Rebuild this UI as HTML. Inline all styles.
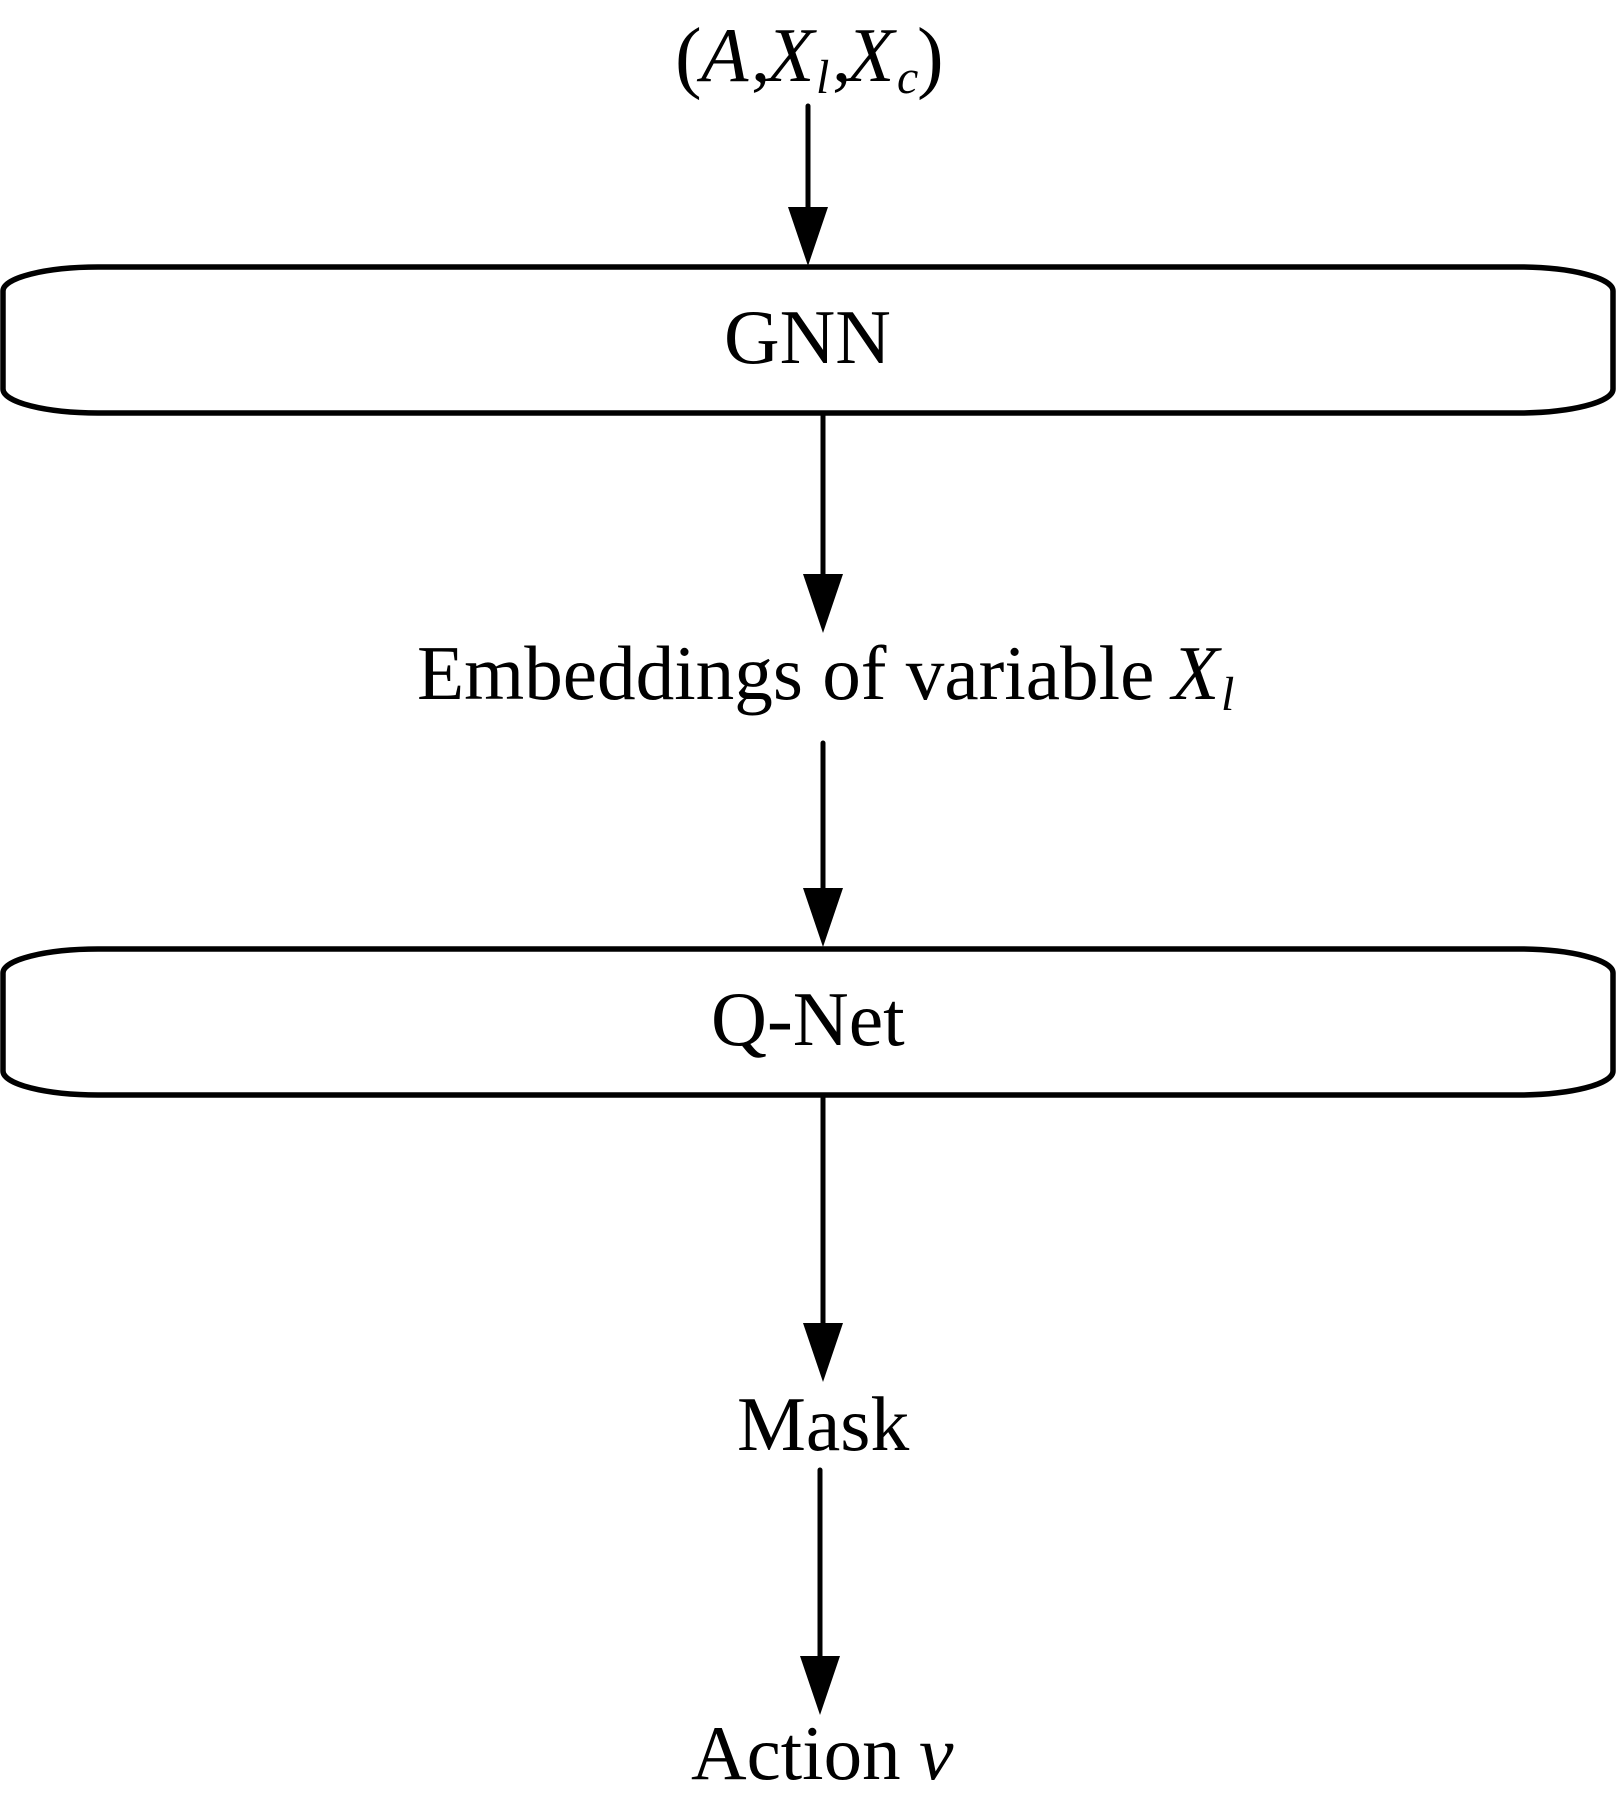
<!DOCTYPE html>
<html><head><meta charset="utf-8"><style>
html,body{margin:0;padding:0;background:#fff}
svg{display:block}
text{font-family:"Liberation Serif",serif;font-size:77.5px;fill:#000}
.i{font-style:italic}
.s{font-style:italic;font-size:48px}
.p{font-size:80px}
</style></head><body>
<svg width="1616" height="1802" viewBox="0 0 1616 1802" xmlns="http://www.w3.org/2000/svg">
<rect width="1616" height="1802" fill="#fff"/>
<g fill="none" stroke="#000" stroke-width="5.5">
<rect x="3" y="267" width="1610" height="146" rx="95" ry="24"/>
<rect x="3" y="949" width="1610" height="146" rx="95" ry="24"/>
</g>
<g stroke="#000" stroke-width="5" stroke-linecap="round">
<line x1="808" y1="106" x2="808" y2="210"/>
<line x1="823" y1="414" x2="823" y2="578"/>
<line x1="823" y1="743" x2="823" y2="890"/>
<line x1="823" y1="1096" x2="823" y2="1326"/>
<line x1="820" y1="1470" x2="820" y2="1658"/>
</g>
<g fill="#000">
<polygon points="788,207 828,207 808,266"/>
<polygon points="803,574 843,574 823,633"/>
<polygon points="803,888 843,888 823,947"/>
<polygon points="803,1323 843,1323 823,1382"/>
<polygon points="800,1656 840,1656 820,1715"/>
</g>
<text class="p" x="675" y="83">(</text>
<text class="i" x="701" y="81">A</text>
<text x="751" y="81">,</text>
<text class="i" x="767" y="81">X</text>
<text class="s" x="816" y="93">l</text>
<text x="832" y="81">,</text>
<text class="i" x="847" y="81">X</text>
<text class="s" x="897" y="93">c</text>
<text class="p" x="917" y="83">)</text>
<text x="724" y="363" style="font-size:77px">GNN</text>
<text x="417" y="699" style="font-size:77.2px">Embeddings of variable</text>
<text class="i" x="1172" y="699">X</text>
<text class="s" x="1221" y="710">l</text>
<text x="711" y="1045">Q-Net</text>
<text x="737" y="1450" style="font-size:77.5px">Mask</text>
<text x="691" y="1779" style="font-size:77px">Action</text>
<text class="i" x="919" y="1779">v</text>
</svg>
</body></html>
